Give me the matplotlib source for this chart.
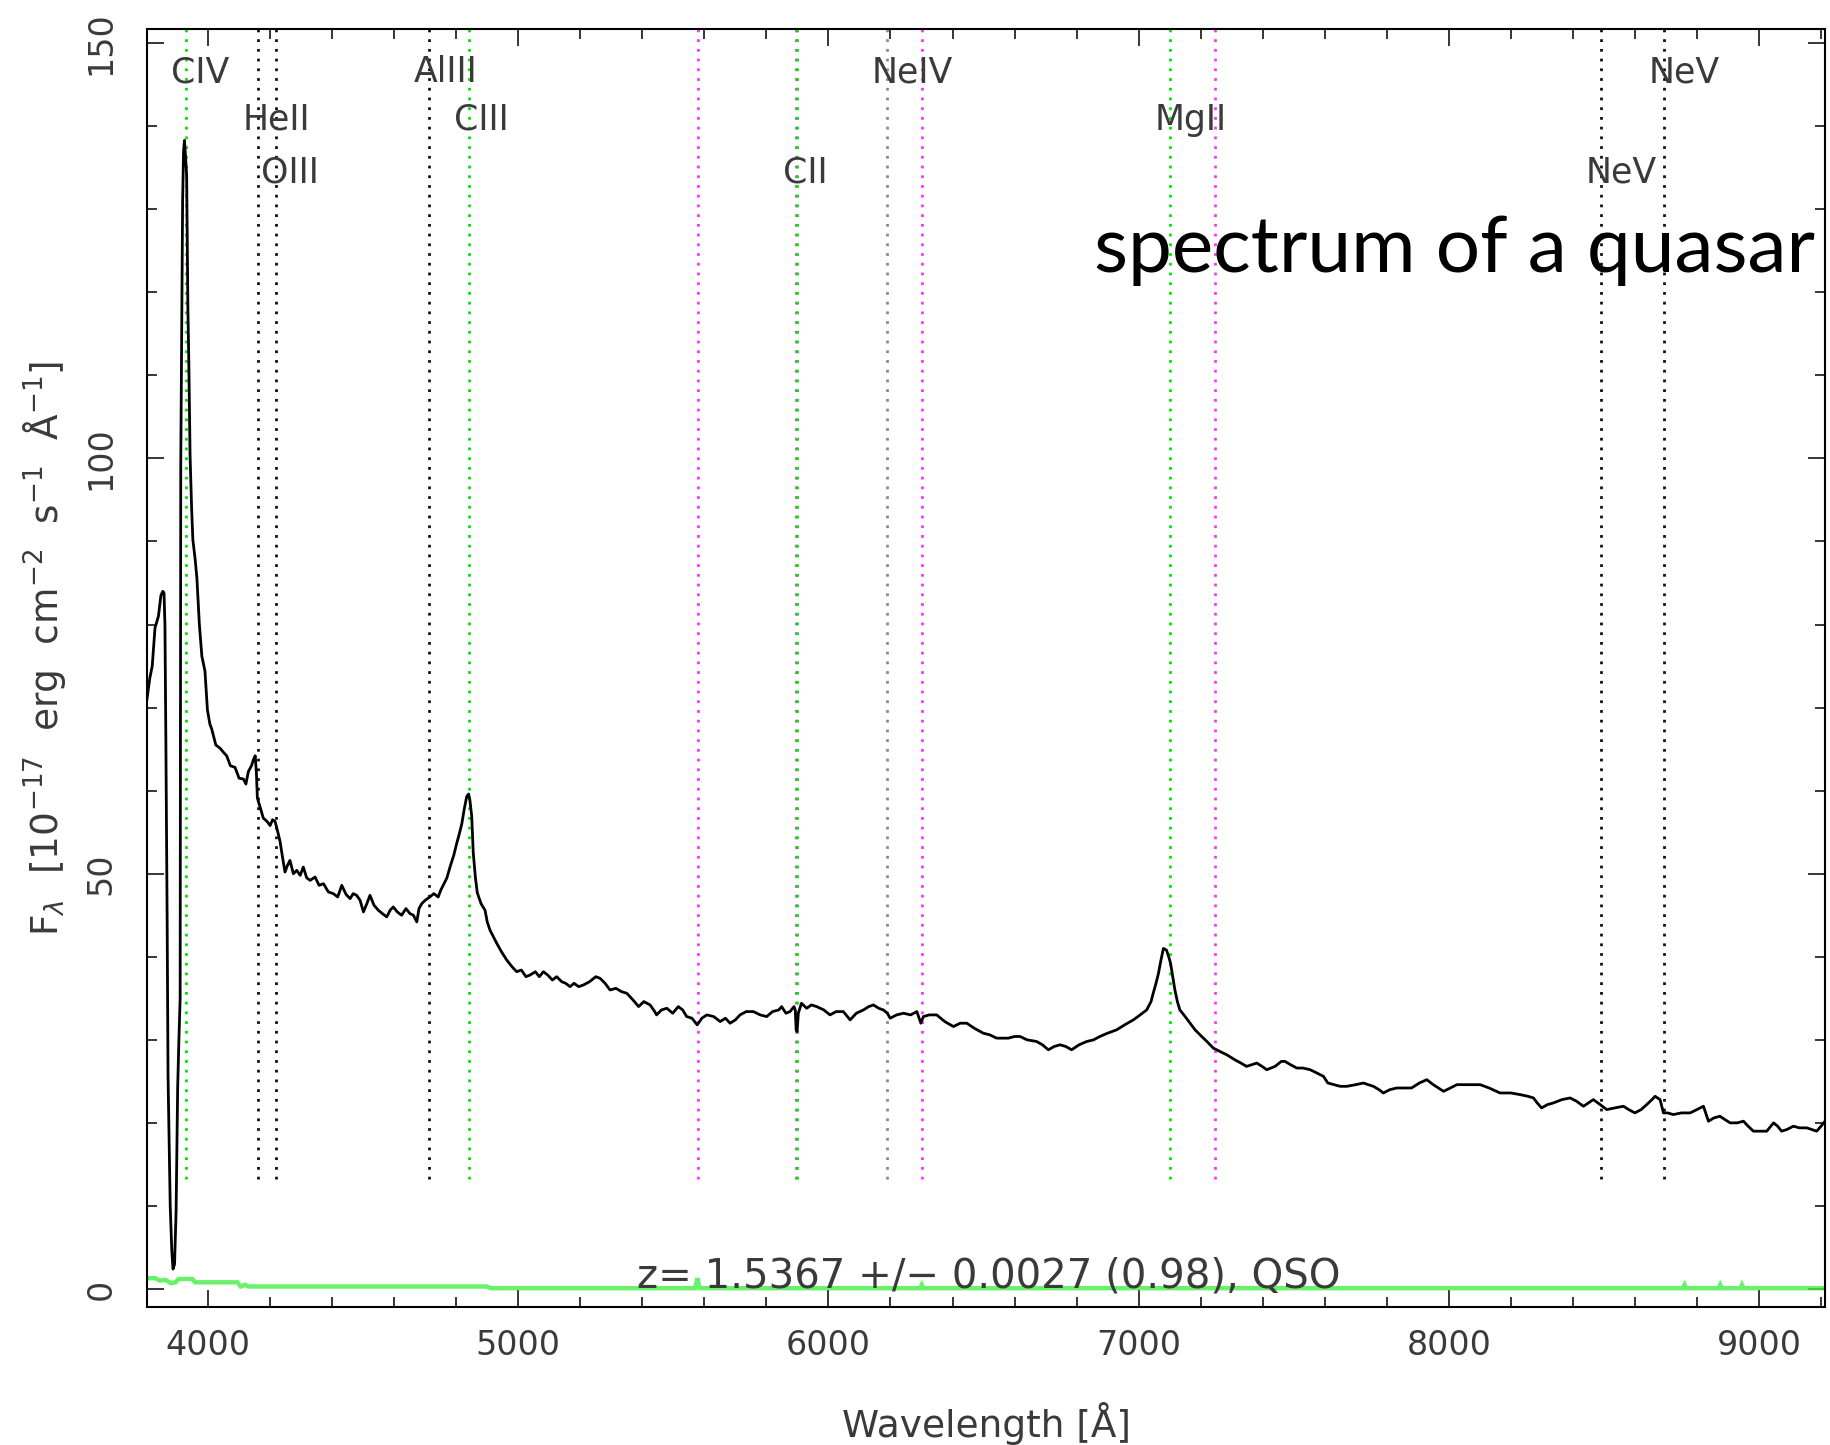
"""Quasar spectrum (SDSS style) with emission line markers."""

import numpy as np
import matplotlib.pyplot as plt
from matplotlib.ticker import MultipleLocator

wave = [3803, 3812, 3820, 3829, 3840, 3848, 3854, 3858, 3861, 3864, 3868, 3871, 3878, 3883, 3887,
        3892, 3897, 3902, 3906, 3910, 3912, 3918, 3921, 3924, 3928, 3931, 3935, 3938, 3942, 3947,
        3951, 3958, 3964, 3972, 3980, 3990, 3998, 4006, 4012, 4025, 4039, 4050, 4060, 4072, 4087,
        4100, 4114, 4122, 4130, 4140, 4146, 4152, 4156, 4159, 4168, 4178, 4190, 4200, 4208, 4216,
        4225, 4232, 4240, 4248, 4256, 4264, 4275, 4286, 4297, 4307, 4318, 4329, 4345, 4358, 4372,
        4388, 4404, 4418, 4431, 4445, 4458, 4468, 4479, 4490, 4501, 4512, 4522, 4535, 4549, 4562,
        4576, 4587, 4597, 4610, 4624, 4638, 4651, 4662, 4673, 4680, 4689, 4700, 4715, 4728, 4742,
        4750, 4758, 4770, 4780, 4792, 4802, 4810, 4818, 4826, 4834, 4840, 4844, 4850, 4855, 4862,
        4868, 4880, 4893, 4900, 4909, 4920, 4931, 4946, 4963, 4980, 4995, 5010, 5025, 5038, 5055,
        5068, 5081, 5095, 5110, 5124, 5140, 5153, 5167, 5180, 5195, 5210, 5230, 5250, 5264, 5280,
        5296, 5315, 5333, 5350, 5370, 5388, 5405, 5425, 5440, 5446, 5462, 5479, 5498, 5516, 5530,
        5543, 5560, 5577, 5592, 5608, 5630, 5651, 5668, 5683, 5700, 5715, 5735, 5758, 5780, 5801,
        5820, 5840, 5849, 5863, 5876, 5889, 5893, 5896, 5899, 5903, 5913, 5930, 5945, 5962, 5985,
        6005, 6025, 6048, 6070, 6090, 6113, 6130, 6145, 6162, 6177, 6190, 6199, 6220, 6242, 6265,
        6285, 6298, 6306, 6325, 6349, 6375, 6403, 6425, 6446, 6470, 6499, 6520, 6542, 6560, 6580,
        6600, 6618, 6640, 6671, 6690, 6709, 6728, 6747, 6765, 6784, 6808, 6833, 6855, 6875, 6900,
        6929, 6955, 6983, 7005, 7026, 7040, 7047, 7056, 7064, 7072, 7080, 7090, 7097, 7103, 7110,
        7117, 7125, 7133, 7150, 7166, 7182, 7198, 7220, 7241, 7262, 7284, 7310, 7330, 7348, 7365,
        7381, 7398, 7413, 7440, 7460, 7472, 7490, 7510, 7530, 7553, 7575, 7596, 7610, 7630, 7650,
        7671, 7700, 7725, 7740, 7757, 7775, 7789, 7810, 7832, 7856, 7880, 7905, 7929, 7950, 7983,
        8005, 8026, 8060, 8101, 8130, 8165, 8200, 8230, 8255, 8273, 8285, 8299, 8318, 8337, 8365,
        8391, 8412, 8434, 8450, 8466, 8488, 8509, 8535, 8563, 8580, 8600, 8620, 8638, 8655, 8665,
        8681, 8692, 8705, 8724, 8750, 8778, 8800, 8821, 8830, 8837, 8855, 8874, 8890, 8907, 8930,
        8950, 8965, 8982, 9000, 9025, 9038, 9047, 9060, 9073, 9090, 9111, 9130, 9154, 9170, 9186,
        9200, 9213]
flux = [71.0, 73.5, 75.0, 79.6, 81.0, 83.5, 84.0, 83.8, 80.0, 66.0, 45.0, 25.6, 10.0, 4.7, 2.4,
        3.0, 9.4, 24.2, 30.0, 35.0, 99.4, 131.0, 137.0, 138.3, 136.0, 134.0, 118.0, 111.6, 100.4, 94.0,
        90.2, 88.0, 85.6, 80.0, 76.2, 74.4, 69.7, 68.0, 67.4, 65.5, 65.1, 64.6, 64.2, 63.0, 62.8,
        61.5, 61.4, 60.8, 62.3, 63.0, 63.7, 64.2, 62.0, 59.1, 58.0, 56.7, 56.3, 55.8, 56.5, 56.3,
        55.0, 53.9, 52.0, 50.2, 51.0, 51.6, 50.0, 50.4, 49.8, 50.8, 49.5, 49.2, 49.6, 48.6, 48.8,
        47.8, 47.6, 47.2, 48.6, 47.5, 47.0, 47.6, 47.4, 46.8, 45.4, 46.4, 47.4, 46.2, 45.6, 45.2,
        44.8, 45.6, 46.0, 45.4, 45.0, 45.8, 45.2, 45.0, 44.2, 45.8, 46.4, 46.8, 47.2, 47.6, 47.2,
        48.0, 48.6, 49.5, 50.8, 52.2, 53.7, 54.8, 56.0, 57.8, 59.3, 59.6, 58.9, 56.9, 52.5, 49.5,
        47.7, 46.4, 45.6, 44.2, 43.2, 42.4, 41.6, 40.6, 39.6, 38.8, 38.2, 38.4, 37.6, 37.8, 38.2,
        37.6, 38.2, 37.8, 37.2, 37.6, 37.0, 36.8, 36.4, 36.8, 36.4, 36.6, 37.0, 37.6, 37.4, 36.8,
        36.0, 36.2, 35.8, 35.6, 34.8, 34.0, 34.6, 34.2, 33.4, 33.0, 33.6, 33.8, 33.2, 34.0, 33.6,
        32.8, 32.6, 31.8, 32.6, 33.0, 32.8, 32.2, 32.6, 32.0, 32.4, 33.0, 33.4, 33.4, 33.0, 32.8,
        33.4, 33.6, 34.0, 33.2, 33.4, 34.0, 33.6, 31.2, 31.0, 33.2, 34.4, 33.8, 34.2, 34.0, 33.6,
        33.0, 33.4, 33.4, 32.4, 33.2, 33.6, 34.0, 34.2, 33.8, 33.6, 33.2, 32.6, 33.0, 33.2, 33.0,
        33.4, 32.0, 32.8, 33.0, 33.0, 32.2, 31.6, 32.0, 32.0, 31.4, 30.8, 30.6, 30.2, 30.2, 30.2,
        30.4, 30.4, 30.0, 29.8, 29.4, 28.8, 29.2, 29.4, 29.2, 28.8, 29.4, 29.8, 30.0, 30.4, 30.8,
        31.2, 31.8, 32.4, 33.0, 33.6, 34.6, 35.6, 36.8, 38.0, 39.6, 41.0, 40.8, 40.0, 39.2, 37.6,
        36.0, 34.6, 33.6, 32.8, 32.0, 31.2, 30.6, 29.8, 29.0, 28.6, 28.2, 27.6, 27.2, 26.8, 27.0,
        27.2, 26.8, 26.4, 26.8, 27.4, 27.4, 27.0, 26.6, 26.6, 26.4, 26.0, 25.6, 24.8, 24.6, 24.4,
        24.4, 24.6, 24.8, 24.6, 24.4, 24.0, 23.6, 24.0, 24.2, 24.2, 24.2, 24.8, 25.2, 24.6, 23.8,
        24.2, 24.6, 24.6, 24.6, 24.2, 23.6, 23.6, 23.4, 23.2, 23.0, 22.4, 21.8, 22.2, 22.4, 22.8,
        23.0, 22.6, 22.0, 22.4, 22.8, 22.2, 21.6, 21.8, 22.0, 21.6, 21.2, 21.6, 22.2, 22.8, 23.2,
        22.8, 21.2, 21.2, 21.0, 21.2, 21.2, 21.6, 22.0, 21.0, 20.2, 20.6, 20.8, 20.4, 20.0, 20.0,
        20.2, 19.6, 19.0, 19.0, 19.0, 19.6, 20.0, 19.6, 19.0, 19.2, 19.6, 19.4, 19.4, 19.2, 19.0,
        19.6, 20.2]

# error spectrum (green)
err_wave = [3803, 3830, 3845, 3862, 3880, 3895, 3905, 3950, 3958, 4095, 4105, 4120, 4130, 4900,
            4910, 5570, 5578, 5584, 6296, 6301, 6306, 8755, 8760, 8765, 8870, 8875, 8880, 8940,
            8945, 8950, 9213]
err_flux = [1.3, 1.3, 1.0, 1.1, 0.7, 0.8, 1.2, 1.2, 0.8, 0.8, 0.3, 0.5, 0.3, 0.3,
            0.1, 0.1, 1.3, 0.1, 0.1, 0.5, 0.1, 0.1, 0.5, 0.1, 0.1, 0.5, 0.1, 0.1,
            0.5, 0.1, 0.1]

# emission lines at z = 1.5367
line_names = ['CIV', 'HeII', 'OIII', 'AlIII', 'CIII', 'CII', 'NeIV', 'MgII', 'NeV', 'NeV']
line_waves = [3929, 4161, 4220, 4712, 4842, 5900, 6188, 7100, 8490, 8693]
fitted = ['CIV', 'CIII', 'CII', 'MgII']
sky_waves = [5578, 5895, 6302, 7246]

ztext = 'z= 1.5367 +/\u2212 0.0027 (0.98), QSO'

txtc = '#3a3a3a'
fig = plt.figure(figsize=(18.3, 14.45), dpi=100)
ax = fig.add_axes([0.0803, 0.0955, 0.917, 0.8844])

for w in sky_waves:
    ax.vlines(w, 13.3, 151.7, colors='#ff33ff', linestyles=(0, (1, 2.5)), lw=2)
for i, (name, w) in enumerate(zip(line_names, line_waves)):
    if name in fitted:
        col = '#00e600'
    elif name == 'NeIV':
        col = '#8a8a8a'
    else:
        col = '#111111'
    ax.vlines(w, 13.3, 151.7, colors=col, linestyles=(0, (1, 2.5)), lw=2)
    rowy = [145.3, 139.6, 133.2][i % 3]
    ax.text(w - 48, rowy, name, fontsize=25, color=txtc, ha='left', va='baseline')

ax.plot(err_wave, err_flux, color='#44ee44', lw=3.2, alpha=0.8, solid_joinstyle='miter')
ax.plot(wave, flux, color='black', lw=2.0)

ax.text(5383, 0.15, ztext, fontsize=29, color=txtc, ha='left', va='baseline')

ax.set_xlim(3803, 9213)
ax.set_ylim(-2.17, 151.7)
ax.xaxis.set_major_locator(MultipleLocator(1000))
ax.xaxis.set_minor_locator(MultipleLocator(200))
ax.yaxis.set_major_locator(MultipleLocator(50))
ax.yaxis.set_minor_locator(MultipleLocator(10))
ax.tick_params(which='both', direction='in', top=True, right=True, width=1.1, color='black')
ax.tick_params(which='major', length=12.5)
ax.tick_params(which='minor', length=7)
ax.tick_params(axis='x', labelsize=24, labelcolor=txtc, pad=16)
ax.tick_params(axis='y', labelsize=24, labelcolor=txtc, pad=21, labelrotation=90)
for lab in ax.get_yticklabels():
    lab.set_va('center')
for s in ax.spines.values():
    s.set_linewidth(1.5)

ax.set_xlabel('Wavelength [\u00c5]', fontsize=27, color=txtc)
ax.xaxis.label.set_va('center')
ax.xaxis.set_label_coords(0.5, -0.0908)
ylab = 'F$_\\lambda$  [10$^{-17}$  erg  cm$^{-2}$  s$^{-1}$  \u00c5$^{-1}$]'
ax.set_ylabel(ylab, fontsize=27, color=txtc)
ax.yaxis.label.set_va('center')
ax.yaxis.set_label_coords(-0.0608, 0.5157)

fig.text(0.9918, 0.8118, 'spectrum of a quasar', fontsize=56.5, family='Lato',
         color='black', ha='right', va='baseline')

fig.savefig('out.png', dpi=100)
